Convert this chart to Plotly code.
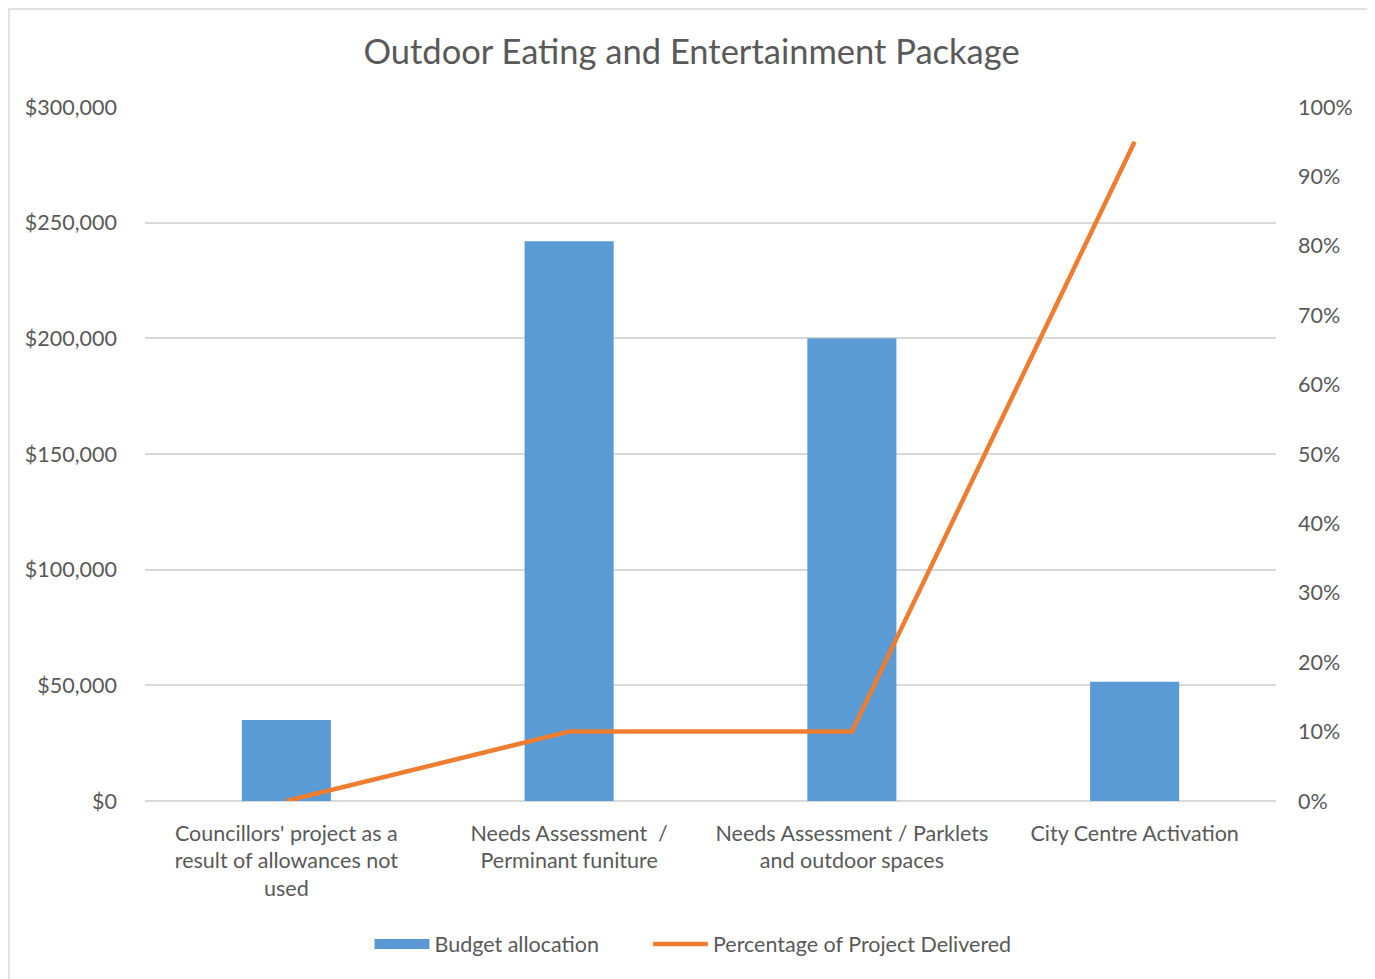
import plotly.graph_objects as go

categories = [
    "Councillors' project as a<br>result of allowances not<br>used",
    "Needs Assessment  /<br>Perminant funiture",
    "Needs Assessment / Parklets<br>and outdoor spaces",
    "City Centre Activation",
]
budget = [35000, 242000, 200000, 51500]
pct_delivered = [0.0, 0.10, 0.10, 0.95]

y_ticks = [0, 50000, 100000, 150000, 200000, 250000, 300000]
y_ticklabels = ["$0", "$50,000", "$100,000", "$150,000", "$200,000", "$250,000", "$300,000"]

FONT = "Lato, Open Sans, sans-serif"
GREY = "#595959"
BLUE = "#5B9BD5"
ORANGE = "#ED7D31"

fig = go.Figure()
fig.add_trace(go.Bar(
    x=categories, y=budget, name="Budget allocation",
    marker=dict(color=BLUE, line=dict(width=0)),
    yaxis="y", showlegend=False, legendgroup="b",
))
# legend proxy so the legend key is a wide rectangle as in the original
fig.add_trace(go.Scatter(
    x=[None], y=[None], name="Budget allocation" + "\u00a0" * 8, mode="lines",
    line=dict(color=BLUE, width=15), legendgroup="b", yaxis="y",
))
fig.add_trace(go.Scatter(
    x=categories, y=pct_delivered, name="Percentage of Project Delivered",
    mode="lines", line=dict(color=ORANGE, width=4.5),
    yaxis="y2",
))

fig.update_layout(
    width=1367, height=971,
    margin=dict(l=137, r=99, t=99, b=178),
    paper_bgcolor="white", plot_bgcolor="white",
    bargap=0.685,
    font=dict(family=FONT, color=GREY, size=21.5),
    title=dict(text="Outdoor Eating and Entertainment Package",
               x=0.5, xanchor="center", y=0.955, yanchor="middle",
               font=dict(size=34.5, color=GREY, family=FONT)),
    xaxis=dict(showgrid=False, showline=False, ticks="", tickfont=dict(size=21.5, color=GREY),
               tickangle=0, ticklabelstandoff=17),
    yaxis=dict(range=[0, 300000], tickvals=y_ticks, ticktext=y_ticklabels,
               showgrid=True, gridcolor="#D9D9D9", gridwidth=1.5,
               zeroline=True, zerolinecolor="#D9D9D9", zerolinewidth=1.5,
               showline=False, tickfont=dict(size=21.5, color=GREY),
               ticklabelstandoff=27),
    yaxis2=dict(range=[0, 1], dtick=0.1, tickformat=".0%", overlaying="y", side="right",
                showgrid=False, zeroline=False, showline=False,
                tickfont=dict(size=21.5, color=GREY), ticklabelstandoff=21),
    legend=dict(orientation="h", x=0.4845, xanchor="center", y=-0.206, yanchor="middle",
                font=dict(size=21.5, color=GREY), traceorder="normal",
                itemwidth=55),
    showlegend=True,
)

fig.add_shape(type="rect", xref="paper", yref="paper",
              x0=-0.1202, x1=1.0822, y0=-0.27, y1=1.1412,
              line=dict(color="#D9D9D9", width=1.5), fillcolor="rgba(0,0,0,0)", layer="below")

fig.write_html("out.html")
